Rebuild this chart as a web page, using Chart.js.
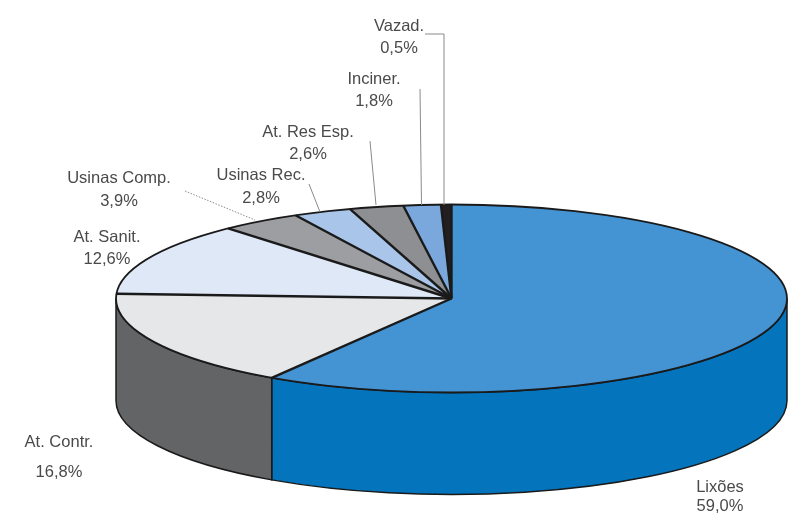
<!DOCTYPE html>
<html>
<head>
<meta charset="utf-8">
<title>Destino final</title>
<script src="https://cdn.jsdelivr.net/npm/chart.js@4"></script>
<style>
  html, body { margin: 0; padding: 0; background: #fff; }
  #box { width: 806px; height: 520px; }
</style>
</head>
<body>
<div id="box"><canvas id="pie3d" width="806" height="520"></canvas></div>
<script>
const categories = ['Lixões', 'At. Contr.', 'At. Sanit.', 'Usinas Comp.', 'Usinas Rec.', 'At. Res Esp.', 'Inciner.', 'Vazad.']
const shares = [59.0, 16.8, 12.6, 3.9, 2.8, 2.6, 1.8, 0.5]

const topColors = ['#4493d3', '#e6e7e9', '#dfe8f6', '#9d9ea1', '#a9c6ea', '#8e8f92', '#7ba8dc', '#231f20']
const wallColors = ['#0474bc', '#636466', '#636466', '#636466', '#636466', '#636466', '#636466', '#636466']

// ellipse of the top face and height of the wall, in page pixels
const CX = 451.5
const CY = 298.5
const RX = 335.5
const RY = 94
const DEPTH = 102

// name and percent vertical middles for each label, same order as categories
const labelSpots = [
  { x: 720, name: 487, pct: 506 },
  { x: 59, name: 442, pct: 472 },
  { x: 107, name: 237, pct: 259 },
  { x: 119, name: 178, pct: 201 },
  { x: 261, name: 175, pct: 198 },
  { x: 308, name: 132, pct: 154 },
  { x: 374, name: 79, pct: 101 },
  { x: 399, name: 26, pct: 48 },
]

const leaders = [
  { pts: [[425, 34], [444, 34], [444, 205]] },
  { pts: [[420, 89], [421.5, 205]] },
  { pts: [[370, 141], [376, 205]] },
  { pts: [[309, 184], [320, 212]] },
  { pts: [[185, 191], [255, 220]], dash: [1.5, 1.5] },
]

const pie3d = {
  id: 'pie3d',
  beforeDatasetsDraw(chart) {
    const ctx = chart.ctx
    const arcs = chart.getDatasetMeta(0).data

    // side wall, only the part of each slice facing the viewer
    ctx.save()
    arcs.forEach((arc, i) => {
      const a0 = Math.max(arc.startAngle, 0)
      const a1 = Math.min(arc.endAngle, Math.PI)
      if (a1 <= a0) return
      ctx.beginPath()
      ctx.ellipse(CX, CY, RX, RY, 0, a0, a1)
      ctx.ellipse(CX, CY + DEPTH, RX, RY, 0, a1, a0, true)
      ctx.closePath()
      ctx.fillStyle = wallColors[i]
      ctx.fill()
      ctx.lineWidth = 1.5
      ctx.strokeStyle = '#1a1a1a'
      ctx.stroke()
    })
    ctx.restore()

    // squash the round pie onto the ellipse
    const first = arcs[0]
    ctx.save()
    ctx.translate(CX, CY)
    ctx.scale(RX / first.outerRadius, RY / first.outerRadius)
    ctx.translate(-first.x, -first.y)
  },
  afterDatasetsDraw(chart) {
    const ctx = chart.ctx
    const arcs = chart.getDatasetMeta(0).data
    ctx.restore()

    // outline of the top face
    ctx.strokeStyle = '#1a1a1a'
    ctx.lineWidth = 1.8
    ctx.beginPath()
    ctx.ellipse(CX, CY, RX, RY, 0, 0, Math.PI * 2)
    ctx.stroke()

    // spokes
    ctx.lineWidth = 2.4
    arcs.forEach(arc => {
      ctx.beginPath()
      ctx.moveTo(CX, CY)
      ctx.lineTo(CX + RX * Math.cos(arc.startAngle), CY + RY * Math.sin(arc.startAngle))
      ctx.stroke()
    })

    // leader lines
    ctx.strokeStyle = '#8a8a8a'
    ctx.lineWidth = 1
    leaders.forEach(l => {
      ctx.setLineDash(l.dash || [])
      ctx.beginPath()
      l.pts.forEach((p, i) => (i ? ctx.lineTo(p[0], p[1]) : ctx.moveTo(p[0], p[1])))
      ctx.stroke()
    })
    ctx.setLineDash([])

    // labels
    ctx.fillStyle = '#4a4a4a'
    ctx.font = '16.5px "Liberation Sans", Arial, sans-serif'
    ctx.textAlign = 'center'
    ctx.textBaseline = 'middle'
    categories.forEach((name, i) => {
      const spot = labelSpots[i]
      ctx.fillText(name, spot.x, spot.name)
      ctx.fillText(shares[i].toFixed(1).replace('.', ',') + '%', spot.x, spot.pct)
    })
  },
}

new Chart(document.getElementById('pie3d').getContext('2d'), {
  type: 'pie',
  data: {
    labels: categories,
    datasets: [{ data: shares, backgroundColor: topColors, borderWidth: 0 }],
  },
  options: {
    responsive: false,
    animation: false,
    events: [],
    plugins: { legend: { display: false }, tooltip: { enabled: false } },
  },
  plugins: [pie3d],
})
</script>
</body>
</html>
